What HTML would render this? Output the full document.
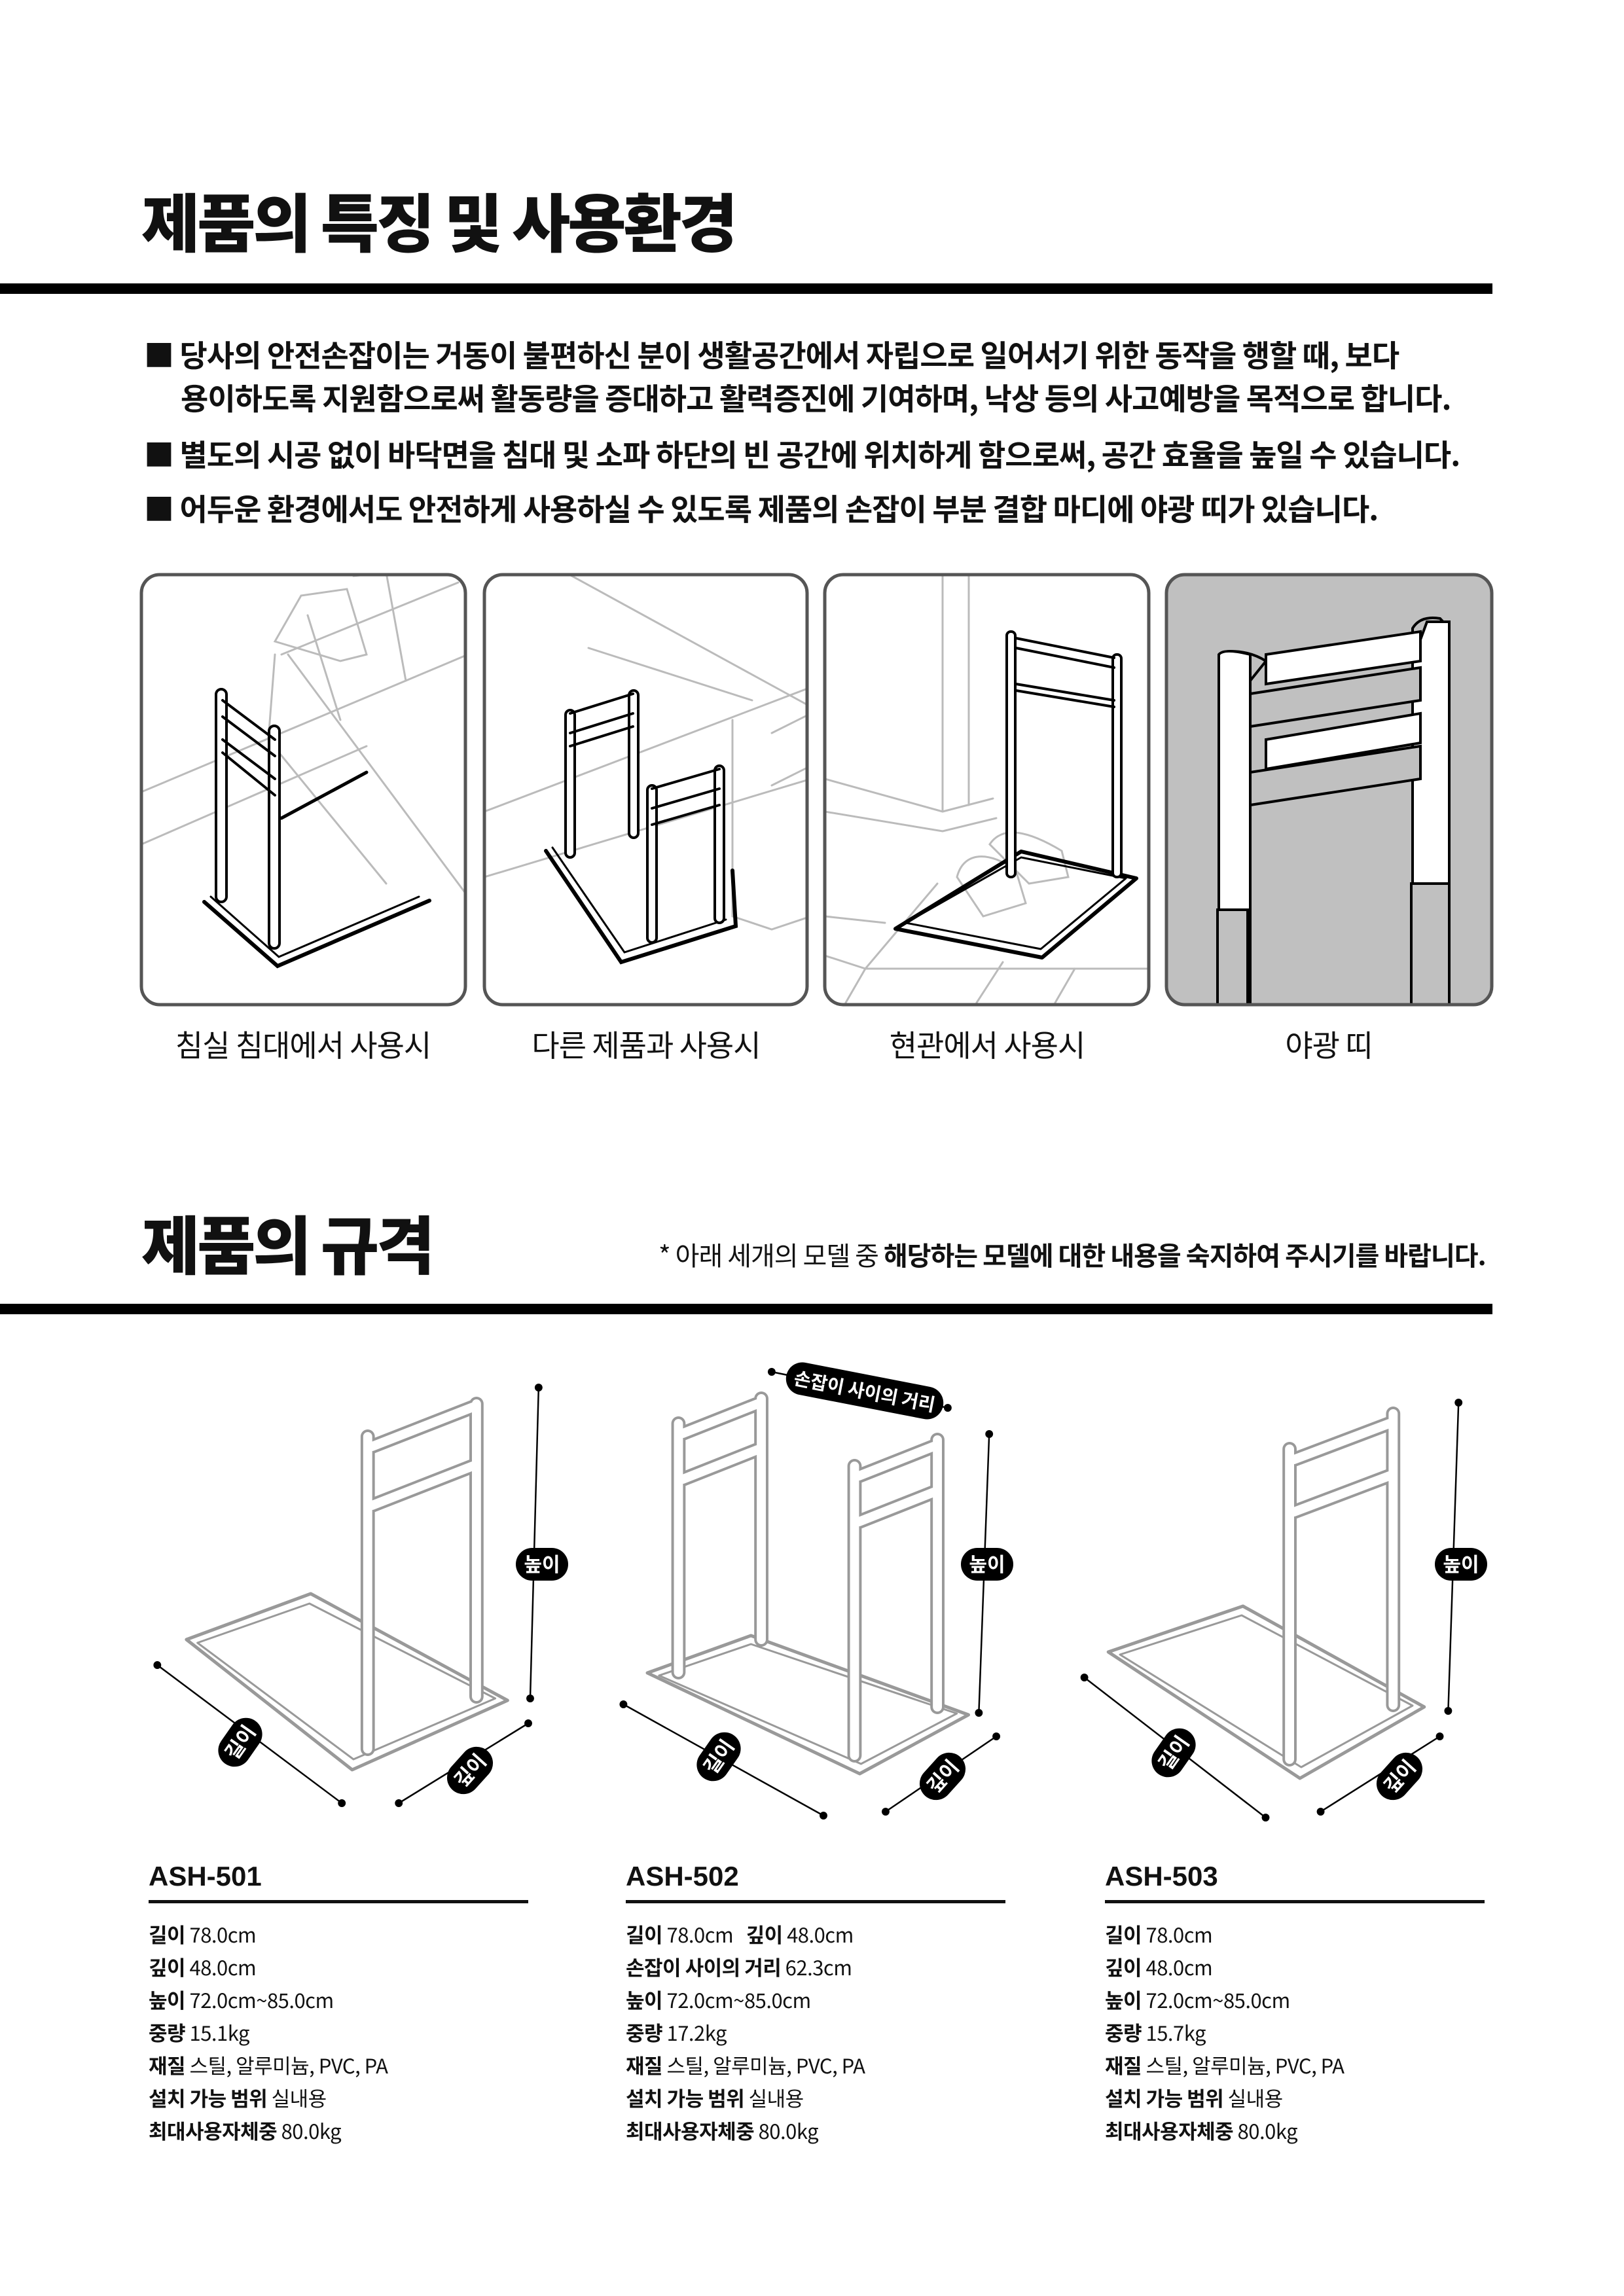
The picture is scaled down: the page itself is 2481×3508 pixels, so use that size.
<!DOCTYPE html>
<html><head><meta charset="utf-8">
<style>
*{margin:0;padding:0;box-sizing:border-box}
body{width:2481px;height:3508px;background:#fff;position:relative;overflow:hidden;font-family:"Liberation Sans","Noto Sans CJK KR",sans-serif;color:#111}
.a{position:absolute;white-space:nowrap}
.h1{font-family:"Noto Sans CJK KR",sans-serif;font-weight:900;font-size:97px;letter-spacing:-4px;line-height:1}
.bar{position:absolute;left:0;width:2280px;height:16px;background:#000}
.bl{font-family:"Noto Sans CJK KR",sans-serif;font-weight:700;font-size:46px;letter-spacing:-1px;line-height:1}
.cap{font-family:"Noto Sans CJK KR",sans-serif;font-size:46px;letter-spacing:-1px;line-height:1;text-align:center;width:500px}
.model{font-family:"Liberation Sans","Noto Sans CJK KR",sans-serif;font-weight:700;font-size:42px;line-height:1}
.ul{position:absolute;height:5px;background:#111;width:580px}
.sp{font-family:"Noto Sans CJK KR",sans-serif;font-size:31px;line-height:1;letter-spacing:-0.5px}
.sp b{font-weight:700}
</style></head><body>

<div class="a h1" style="left:216px;top:286px">제품의 특징 및 사용환경</div>
<div class="bar" style="top:433px"></div>

<div class="a bl" style="left:220px;top:518px">■ 당사의 안전손잡이는 거동이 불편하신 분이 생활공간에서 자립으로 일어서기 위한 동작을 행할 때, 보다</div>
<div class="a bl" style="left:276px;top:584px">용이하도록 지원함으로써 활동량을 증대하고 활력증진에 기여하며, 낙상 등의 사고예방을 목적으로 합니다.</div>
<div class="a bl" style="left:220px;top:670px">■ 별도의 시공 없이 바닥면을 침대 및 소파 하단의 빈 공간에 위치하게 함으로써, 공간 효율을 높일 수 있습니다.</div>
<div class="a bl" style="left:220px;top:753px">■ 어두운 환경에서도 안전하게 사용하실 수 있도록 제품의 손잡이 부분 결합 마디에 야광 띠가 있습니다.</div>

<svg class="a" style="left:0;top:0" width="2481" height="3508" viewBox="0 0 2481 3508">
<defs>
<clipPath id="c1"><rect x="216" y="878" width="495" height="657" rx="28"/></clipPath>
<clipPath id="c2"><rect x="741" y="878" width="493" height="657" rx="28"/></clipPath>
<clipPath id="c3"><rect x="1268" y="878" width="495" height="657" rx="28"/></clipPath>
<clipPath id="c4"><rect x="1792" y="878" width="497" height="657" rx="28"/></clipPath>
</defs>
<!-- panel 1 -->
<g>
<g clip-path="url(#c1)" fill="none" stroke-linecap="round">
 <g stroke="#bbb" stroke-width="3">
  <path d="M216 1210 L715 1000 M216 1290 L560 1140 M430 1000 L700 890 M440 1000 L715 1370 M470 940 L520 1100 M420 1000 L410 1130 L590 1350"/>
  <path d="M420 980 L460 910 L530 900 L560 1000 L520 1010 Z M540 880 L590 875 L620 1040"/>
 </g>
 <path d="M312 1378 L424 1476 L656 1376" stroke="#000" stroke-width="6"/>
 <path d="M322 1370 L426 1462 L640 1370" stroke="#000" stroke-width="3"/>
 <path d="M430 1250 L560 1180" stroke="#000" stroke-width="5"/>
 <g stroke="#000" stroke-width="4" fill="#fff">
  <rect x="330" y="1053" width="16" height="325" rx="8"/>
  <rect x="411" y="1109" width="16" height="340" rx="8"/>
  <path d="M340 1070 L420 1130 M340 1095 L420 1155 M340 1130 L420 1190 M340 1150 L420 1215"/>
 </g>
</g>
<rect x="216" y="878" width="495" height="657" rx="28" fill="none" stroke="#555" stroke-width="5"/>
</g>
<!-- panel 2 -->
<g transform="translate(-1 0)">
<g clip-path="url(#c2)" fill="none" stroke-linecap="round">
 <g stroke="#bbb" stroke-width="3">
  <path d="M741 1240 L1240 1050 M741 1340 L1240 1190 M860 872 L1240 1080 M900 990 L1150 1070 M1180 1120 L1240 1090 M1120 1100 L1120 1400 L1180 1420 L1240 1400 M1180 1200 L1240 1170"/>
 </g>
 <path d="M835 1300 L950 1470 L1125 1415 L1120 1330" stroke="#000" stroke-width="6"/>
 <path d="M845 1295 L955 1455 L1110 1405" stroke="#000" stroke-width="3"/>
 <g stroke="#000" stroke-width="4" fill="#fff">
  <rect x="865" y="1085" width="14" height="225" rx="7"/>
  <rect x="962" y="1055" width="14" height="225" rx="7"/>
  <rect x="990" y="1200" width="14" height="240" rx="7"/>
  <rect x="1093" y="1170" width="14" height="240" rx="7"/>
  <path d="M872 1090 L968 1060 M872 1120 L968 1090 M872 1140 L968 1110 M997 1205 L1100 1175 M997 1235 L1100 1205 M997 1260 L1100 1230"/>
 </g>
</g>
<rect x="741" y="878" width="493" height="657" rx="28" fill="none" stroke="#555" stroke-width="5"/>
</g>
<!-- panel 3 -->
<g transform="translate(-8 0)">
<g clip-path="url(#c3)" fill="none" stroke-linecap="round">
 <g stroke="#bbb" stroke-width="3">
  <path d="M1448 872 L1448 1240 M1488 872 L1488 1230 M1268 1190 L1448 1240 M1448 1240 L1525 1220 M1268 1240 L1448 1270 L1530 1250 M1300 1532 L1330 1480 L1440 1350 M1500 1532 L1540 1470 M1620 1532 L1650 1480 M1268 1460 L1330 1480 L1765 1480 M1268 1400 L1360 1410"/>
  <path d="M1470 1340 C1480 1300 1520 1300 1560 1330 L1575 1380 L1510 1400 Z M1520 1290 C1540 1260 1580 1270 1630 1300 L1640 1340 L1580 1350 Z"/>
 </g>
 <path d="M1376 1419 L1600 1463 L1744 1342 L1568 1301 Z" stroke="#000" stroke-width="6" stroke-linejoin="round"/>
 <path d="M1392 1410 L1598 1450 L1728 1342 L1568 1310 Z" stroke="#000" stroke-width="3" stroke-linejoin="round"/>
 <g stroke="#000" stroke-width="4" fill="#fff">
  <rect x="1546" y="965" width="13" height="375" rx="6"/>
  <rect x="1708" y="1000" width="13" height="340" rx="6"/>
  <path d="M1560 975 L1710 1005 M1560 990 L1710 1020 M1560 1045 L1710 1070 M1560 1055 L1710 1080"/>
 </g>
</g>
<rect x="1268" y="878" width="495" height="657" rx="28" fill="none" stroke="#555" stroke-width="5"/>
</g>
<!-- panel 4 -->
<g transform="translate(-10 0)">
<rect x="1792" y="878" width="497" height="657" rx="28" fill="#c0c0c0"/>
<g clip-path="url(#c4)" stroke="#000" stroke-width="4" fill="#fff">
 <path d="M1872 1540 L1872 1010 Q1872 995 1890 995 Q1920 995 1944 1010 L1920 1040 L1920 1540 Z" fill="#c0c0c0"/>
 <path d="M1872 1540 L1872 1000 Q1880 990 1920 1000 L1920 1540"/>
 <path d="M2168 1540 L2168 960 Q2180 940 2210 945 L2224 960 L2224 1540" fill="#c0c0c0"/>
 <path d="M2168 1540 L2168 1010 L2190 950 L2224 950 L2224 1540"/>
 <path d="M1944 1000 L2180 965 L2180 1010 L1944 1045 Z"/>
 <path d="M1920 1060 L2180 1020 L2180 1070 L1920 1110 Z" fill="#c0c0c0"/>
 <path d="M1944 1130 L2180 1090 L2180 1135 L1944 1175 Z"/>
 <path d="M1920 1180 L2180 1140 L2180 1190 L1920 1230 Z" fill="#c0c0c0"/>
 <rect x="1870" y="1390" width="46" height="150" fill="#c0c0c0"/>
 <rect x="2166" y="1350" width="58" height="190" fill="#c0c0c0"/>
</g>
<rect x="1792" y="878" width="497" height="657" rx="28" fill="none" stroke="#555" stroke-width="5"/>
</g>

<!-- spec drawings -->
<g fill="none" stroke-linecap="round" stroke-linejoin="round" transform="scale(0.989 1)">
 <g stroke="#999" stroke-width="5">
  <path d="M480 2435 L288 2505 L544 2704 L784 2598 Z"/>
  <path d="M478 2450 L305 2510 L546 2688 L765 2595 Z" stroke-width="3"/>
  <path d="M1160 2499 L1000 2556 L1328 2710 L1496 2620 Z"/>
  <path d="M1160 2512 L1018 2560 L1330 2695 L1478 2618 Z" stroke-width="3"/>
  <path d="M1920 2454 L1712 2524 L2008 2717 L2200 2608 Z"/>
  <path d="M1918 2468 L1730 2528 L2010 2700 L2182 2606 Z" stroke-width="3"/>
 </g>
 <g stroke="#999" stroke-width="22"><path d="M568 2195 L568 2672 M736 2145 L736 2592 M575 2210 L730 2150 M575 2300 L730 2240
  M1048 2175 L1048 2555 M1176 2137 L1176 2505 M1055 2190 L1170 2145 M1055 2260 L1170 2215
  M1320 2240 L1320 2682 M1448 2200 L1448 2608 M1327 2255 L1442 2210 M1327 2325 L1442 2280
  M1992 2214 L1992 2688 M2152 2160 L2152 2605 M1999 2230 L2146 2175 M1999 2310 L2146 2255"/></g>
 <g stroke="#fff" stroke-width="14"><path d="M568 2195 L568 2672 M736 2145 L736 2592 M575 2210 L730 2150 M575 2300 L730 2240
  M1048 2175 L1048 2555 M1176 2137 L1176 2505 M1055 2190 L1170 2145 M1055 2260 L1170 2215
  M1320 2240 L1320 2682 M1448 2200 L1448 2608 M1327 2255 L1442 2210 M1327 2325 L1442 2280
  M1992 2214 L1992 2688 M2152 2160 L2152 2605 M1999 2230 L2146 2175 M1999 2310 L2146 2255"/></g>
 <g stroke="#000" stroke-width="2.5">
  <path d="M832 2120 L819 2595 M243 2544 L528 2755 M616 2755 L816 2633"/>
  <path d="M1528 2191 L1512 2617 M963 2604 L1272 2774 M1368 2768 L1539 2653 M1192 2096 L1464 2151"/>
  <path d="M2253 2143 L2237 2614 M1675 2563 L1955 2777 M2040 2768 L2224 2653"/>
 </g>
 <g fill="#000"><circle cx="832" cy="2120" r="6"/><circle cx="819" cy="2595" r="6"/><circle cx="243" cy="2544" r="6"/><circle cx="528" cy="2755" r="6"/><circle cx="616" cy="2755" r="6"/><circle cx="816" cy="2633" r="6"/>
 <circle cx="1528" cy="2191" r="6"/><circle cx="1512" cy="2617" r="6"/><circle cx="963" cy="2604" r="6"/><circle cx="1272" cy="2774" r="6"/><circle cx="1368" cy="2768" r="6"/><circle cx="1539" cy="2653" r="6"/><circle cx="1192" cy="2096" r="6"/><circle cx="1464" cy="2151" r="6"/>
 <circle cx="2253" cy="2143" r="6"/><circle cx="2237" cy="2614" r="6"/><circle cx="1675" cy="2563" r="6"/><circle cx="1955" cy="2777" r="6"/><circle cx="2040" cy="2768" r="6"/><circle cx="2224" cy="2653" r="6"/></g>
</g>
<g font-family="Noto Sans CJK KR, sans-serif" font-weight="700" font-size="30" fill="#fff" text-anchor="middle">
 <g transform="translate(828 2390)"><rect x="-40" y="-25" width="80" height="50" rx="25" fill="#000"/><text y="11">높이</text></g>
 <g transform="translate(1508 2390)"><rect x="-40" y="-25" width="80" height="50" rx="25" fill="#000"/><text y="11">높이</text></g>
 <g transform="translate(2232 2390)"><rect x="-40" y="-25" width="80" height="50" rx="25" fill="#000"/><text y="11">높이</text></g>
 <g transform="translate(367 2662) rotate(-55)"><rect x="-40" y="-25" width="80" height="50" rx="25" fill="#000"/><text y="11">길이</text></g>
 <g transform="translate(1098 2684) rotate(-55)"><rect x="-40" y="-25" width="80" height="50" rx="25" fill="#000"/><text y="11">길이</text></g>
 <g transform="translate(1793 2678) rotate(-55)"><rect x="-40" y="-25" width="80" height="50" rx="25" fill="#000"/><text y="11">길이</text></g>
 <g transform="translate(718 2705) rotate(-48)"><rect x="-40" y="-25" width="80" height="50" rx="25" fill="#000"/><text y="11">깊이</text></g>
 <g transform="translate(1440 2714) rotate(-48)"><rect x="-40" y="-25" width="80" height="50" rx="25" fill="#000"/><text y="11">깊이</text></g>
 <g transform="translate(2138 2714) rotate(-48)"><rect x="-40" y="-25" width="80" height="50" rx="25" fill="#000"/><text y="11">깊이</text></g>
 <g transform="translate(1321 2125) rotate(11)"><rect x="-122" y="-25" width="244" height="50" rx="25" fill="#000"/><text y="11" font-size="28">손잡이 사이의 거리</text></g>
</g>
</svg>

<div class="a cap" style="left:213px;top:1572px">침실 침대에서 사용시</div>
<div class="a cap" style="left:737px;top:1572px">다른 제품과 사용시</div>
<div class="a cap" style="left:1258px;top:1572px">현관에서 사용시</div>
<div class="a cap" style="left:1780px;top:1572px">야광 띠</div>

<div class="a h1" style="left:216px;top:1848px">제품의 규격</div>
<div class="a" style="left:1006px;top:1896px;font-family:'Noto Sans CJK KR',sans-serif;font-size:40px;letter-spacing:-1px;line-height:1">* 아래 세개의 모델 중 <b>해당하는 모델에 대한 내용을 숙지하여 주시기를 바랍니다.</b></div>
<div class="bar" style="top:1992px"></div>

<div class="a model" style="left:227px;top:2846px">ASH-501</div>
<div class="a model" style="left:956px;top:2846px">ASH-502</div>
<div class="a model" style="left:1688px;top:2846px">ASH-503</div>
<div class="ul" style="left:227px;top:2903px"></div>
<div class="ul" style="left:956px;top:2903px"></div>
<div class="ul" style="left:1688px;top:2903px"></div>

<div class="a sp" style="left:227px;top:2930px;line-height:50px">
<b>길이</b> 78.0cm<br><b>깊이</b> 48.0cm<br><b>높이</b> 72.0cm~85.0cm<br><b>중량</b> 15.1kg<br><b>재질</b> 스틸, 알루미늄, PVC, PA<br><b>설치 가능 범위</b> 실내용<br><b>최대사용자체중</b> 80.0kg</div>
<div class="a sp" style="left:956px;top:2930px;line-height:50px">
<b>길이</b> 78.0cm &nbsp;&nbsp;<b>깊이</b> 48.0cm<br><b>손잡이 사이의 거리</b> 62.3cm<br><b>높이</b> 72.0cm~85.0cm<br><b>중량</b> 17.2kg<br><b>재질</b> 스틸, 알루미늄, PVC, PA<br><b>설치 가능 범위</b> 실내용<br><b>최대사용자체중</b> 80.0kg</div>
<div class="a sp" style="left:1688px;top:2930px;line-height:50px">
<b>길이</b> 78.0cm<br><b>깊이</b> 48.0cm<br><b>높이</b> 72.0cm~85.0cm<br><b>중량</b> 15.7kg<br><b>재질</b> 스틸, 알루미늄, PVC, PA<br><b>설치 가능 범위</b> 실내용<br><b>최대사용자체중</b> 80.0kg</div>

</body></html>
